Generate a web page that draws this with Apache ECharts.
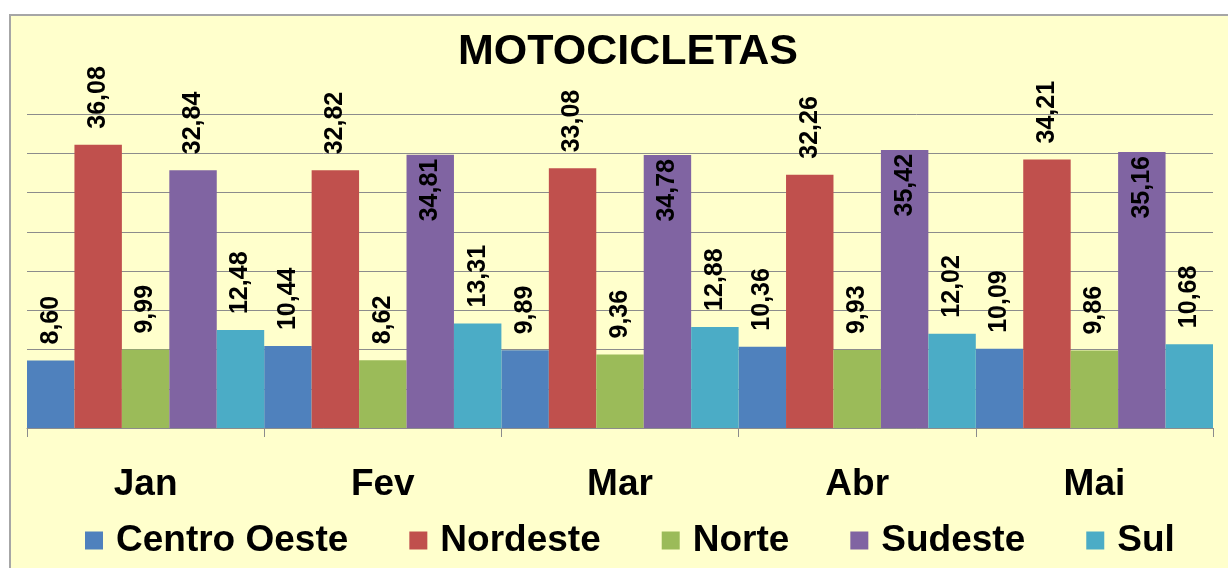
<!DOCTYPE html>
<html>
<head>
<meta charset="utf-8">
<title>Motocicletas</title>
<script src="https://cdn.jsdelivr.net/npm/echarts@6/dist/echarts.min.js"></script>
<style>
  html, body { margin: 0; padding: 0; background: #ffffff; }
  #chart { width: 1228px; height: 568px; }
</style>
</head>
<body>
<div id="chart"></div>
<script>
// meses
var months = ["Jan", "Fev", "Mar", "Abr", "Mai"];
// regiões
var regions = ["Centro Oeste", "Nordeste", "Norte", "Sudeste", "Sul"];
var centroOeste = [8.60, 10.44, 9.89, 10.36, 10.09];
var nordeste = [36.08, 32.82, 33.08, 32.26, 34.21];
var norte = [9.99, 8.62, 9.36, 9.93, 9.86];
var sudeste = [32.84, 34.81, 34.78, 35.42, 35.16];
var sul = [12.48, 13.31, 12.88, 12.02, 10.68];
// rótulos do Sudeste que ficam dentro da barra
var sudesteInside = [1, 2, 3, 4];

var colors = ["#4F81BD", "#C0504D", "#9BBB59", "#8064A2", "#4BACC6"];
var font = "Liberation Sans, Arial, sans-serif";

function fmt(p) {
  return p.value.toFixed(2).replace(".", ",");
}

var labelTop = {
  show: true,
  position: "top",
  rotate: 90,
  align: "left",
  verticalAlign: "middle",
  distance: 16,
  formatter: fmt,
  color: "#000",
  fontFamily: font,
  fontWeight: "bold",
  fontSize: 25
};

function makeSeries(name, values, idx) {
  var data = values.map(function (v, i) {
    if (name === "Sudeste" && sudesteInside.indexOf(i) >= 0) {
      return {
        value: v,
        label: { position: "insideTop", align: "right", distance: 4 }
      };
    }
    return v;
  });
  return {
    name: name,
    type: "bar",
    data: data,
    barGap: "0%",
    barCategoryGap: "0%",
    itemStyle: { color: colors[idx] },
    label: labelTop
  };
}

var chart = echarts.init(document.getElementById("chart"));
var option = {
  animation: false,
  backgroundColor: "#ffffff",
  graphic: [{
    type: "rect",
    z: -10,
    silent: true,
    shape: { x: 10, y: 15, width: 1240, height: 580 },
    style: { fill: "#FFFFCC", stroke: "#A6A6A6", lineWidth: 2 }
  }],
  title: {
    text: "MOTOCICLETAS",
    left: 453,
    top: 26,
    textStyle: { fontFamily: font, fontWeight: "bold", fontSize: 43, color: "#000" }
  },
  legend: {
    data: regions,
    top: 517,
    left: 80,
    itemWidth: 18,
    itemHeight: 18,
    itemGap: 61,
    icon: "rect",
    textStyle: {
      fontFamily: font,
      fontWeight: "bold",
      fontSize: 37,
      color: "#000",
      padding: [0, 0, 0, 8]
    }
  },
  grid: { left: 27, right: 15, top: 114, bottom: 140 },
  xAxis: {
    type: "category",
    data: months,
    axisLine: { lineStyle: { color: "#8C8C8C", width: 1 } },
    axisTick: { show: true, length: 9, lineStyle: { color: "#8C8C8C" } },
    axisLabel: {
      margin: 38,
      color: "#000",
      fontFamily: font,
      fontWeight: "bold",
      fontSize: 37
    }
  },
  yAxis: {
    type: "value",
    min: 0,
    max: 40,
    interval: 5,
    axisLabel: { show: false },
    axisLine: { show: false },
    axisTick: { show: false },
    splitLine: { lineStyle: { color: "#8C8C8C", width: 1 } }
  },
  series: [
    makeSeries("Centro Oeste", centroOeste, 0),
    makeSeries("Nordeste", nordeste, 1),
    makeSeries("Norte", norte, 2),
    makeSeries("Sudeste", sudeste, 3),
    makeSeries("Sul", sul, 4)
  ]
};
chart.setOption(option);
</script>
</body>
</html>
